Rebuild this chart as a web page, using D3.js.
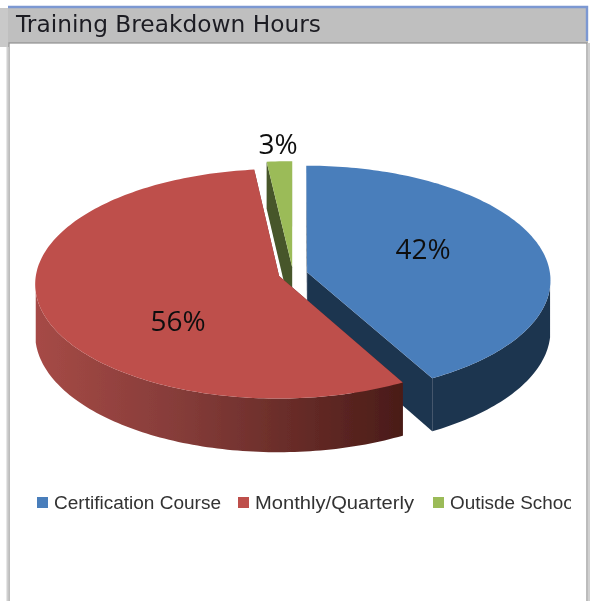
<!DOCTYPE html>
<html>
<head>
<meta charset="utf-8">
<script src="https://cdn.jsdelivr.net/npm/d3@7"></script>
<style>
html,body{margin:0;padding:0;background:#fff;overflow:hidden}
svg{display:block}
</style>
</head>
<body>
<svg id="c" width="593" height="601"></svg>
<script>
// Data.
const titleText = "Training Breakdown Hours";
const categories = ["Certification Course", "Monthly/Quarterly", "Outisde School"];
// Printed labels, exactly as the chart shows them.
const printedLabels = ["42%", "56%", "3%"];
// Shares measured from the drawn slice geometry. The source's 3-D pie draws its
// thinnest slice narrower than its printed 3%, so these differ from the labels.
const sliceShares = [42, 56.2, 1.8];
const topColors = ["#4a7ebb", "#be4f4c", "#9bbb59"];
const wallColors = ["#1f3650", "url(#redRim)", "#46562a"];
const redRimStops = ["#a64a46", "#853c39", "#662b27", "#4a1c18"];

const svg = d3.select("#c");
const defs = svg.append("defs");
defs.append("filter").attr("id", "soft").attr("x", "-5%").attr("y", "-5%").attr("width", "110%").attr("height", "110%")
  .append("feGaussianBlur").attr("stdDeviation", 0.55);
defs.append("filter").attr("id", "softer").attr("x", "-5%").attr("y", "-20%").attr("width", "110%").attr("height", "140%")
  .append("feGaussianBlur").attr("stdDeviation", 0.75);
defs.append("clipPath").attr("id", "legendClip").append("rect")
  .attr("x", 0).attr("y", 480).attr("width", 571).attr("height", 50);
const rimX = d3.scaleLinear().domain([35, 401]).range([0, 1]);
const grad = defs.append("linearGradient").attr("id", "redRim").attr("gradientUnits", "userSpaceOnUse")
  .attr("x1", rimX.invert(0)).attr("x2", rimX.invert(1)).attr("y1", 0).attr("y2", 0);
[35, 180, 300, 401].forEach((x, i) => grad.append("stop").attr("offset", rimX(x)).attr("stop-color", redRimStops[i]));

const root = svg.append("g").attr("filter", "url(#soft)");

// Frame
root.append("rect").attr("x", 0).attr("y", 8).attr("width", 9).attr("height", 39).attr("fill", "#c9c9c9");
root.append("rect").attr("x", 8).attr("y", 7).attr("width", 580).attr("height", 36).attr("fill", "#bfbfbf");
root.append("rect").attr("x", 9).attr("y", 43).attr("width", 578).attr("height", 570)
  .attr("fill", "#fff").attr("stroke", "#8f8f8f").attr("stroke-width", 1.2);
root.append("line").attr("x1", 7.5).attr("x2", 7.5).attr("y1", 47).attr("y2", 601).attr("stroke", "#d0d0d0").attr("stroke-width", 2);
root.append("line").attr("x1", 589).attr("x2", 589).attr("y1", 43).attr("y2", 601).attr("stroke", "#d0d0d0").attr("stroke-width", 2);
root.append("path").attr("d", "M8,7H587V41").attr("fill", "none").attr("stroke", "#7b98d2").attr("stroke-width", 2.4);
root.append("text").attr("x", 16).attr("y", 32).text(titleText)
  .attr("font-family", "'DejaVu Sans'").attr("font-size", 23).attr("fill", "#1d1d24")
  .attr("textLength", 305).attr("lengthAdjust", "spacingAndGlyphs");

// Projection of the tilted disc
const cx = 293, cy = 274, rx = 243, ry = 114, persp = 0.067, explode = 0.06, depth = 50, rimFrom = 0.12;
const scaleOf = v => 1 / (1 - persp * v);
const project = (u, v) => [cx + rx * u * scaleOf(v), cy + ry * v * scaleOf(v)];
const drop = (u, v) => { const p = project(u, v); return [p[0], p[1] + depth * scaleOf(v)]; };
const lineGen = d3.line();

const arcs = d3.pie().sort(null).value(d => d)(sliceShares);

const pieG = root.append("g");
[2, 0, 1].forEach(i => {
  const a = arcs[i];
  const mid = (a.startAngle + a.endAngle) / 2;
  const ou = explode * Math.sin(mid), ov = -explode * Math.cos(mid);
  const pts = d3.range(0, 1.0001, 1 / Math.max(4, Math.ceil((a.endAngle - a.startAngle) / 0.02)))
    .map(t => { const th = a.startAngle + t * (a.endAngle - a.startAngle);
      return [ou + Math.sin(th), ov - Math.cos(th)]; });
  const apex = [ou, ov];

  // radial cut faces
  [pts[0], pts[pts.length - 1]].forEach(q => {
    pieG.append("path")
      .attr("d", lineGen([project(...apex), project(...q), drop(...q), drop(...apex)]) + "Z")
      .attr("fill", wallColors[i]);
  });
  // outer rim: the visible front part of the arc, as one band
  const rim = pts.filter(p => p[1] > rimFrom + ov);
  if (rim.length > 1) {
    pieG.append("path")
      .attr("d", lineGen([...rim.map(p => project(...p)), ...rim.slice().reverse().map(p => drop(...p))]) + "Z")
      .attr("fill", wallColors[i]);
  }
  // top face
  pieG.append("path")
    .attr("d", lineGen([apex, ...pts].map(p => project(...p))) + "Z")
    .attr("fill", topColors[i]);
});

// Percent labels
const labelAnchors = [[423, 259], [178, 331], [278, 154]];
root.append("g").selectAll("text").data(printedLabels).join("text")
  .attr("x", (d, i) => labelAnchors[i][0]).attr("y", (d, i) => labelAnchors[i][1])
  .attr("text-anchor", "middle").attr("font-family", "'Open Sans'").attr("font-size", 28)
  .attr("fill", "#111").text(d => d);

// Legend
const legendSwatchX = [37, 238, 433];
const legendTextWidth = [167, 159, 128];
const legend = svg.append("g").attr("filter", "url(#softer)").attr("clip-path", "url(#legendClip)");
categories.forEach((c, i) => {
  legend.append("rect").attr("x", legendSwatchX[i]).attr("y", 497).attr("width", 11).attr("height", 11).attr("fill", topColors[i]);
  legend.append("text").attr("x", legendSwatchX[i] + 17).attr("y", 509).text(c)
    .attr("font-family", "'Liberation Sans'").attr("font-size", 18).attr("fill", "#333")
    .attr("textLength", legendTextWidth[i]).attr("lengthAdjust", "spacingAndGlyphs");
});
</script>
</body>
</html>
